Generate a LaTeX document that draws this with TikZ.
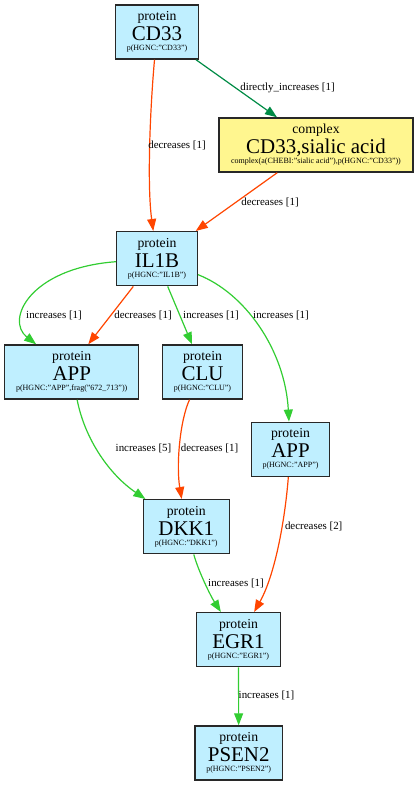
\documentclass[tikz,border=0pt]{standalone}
\usepackage{fontspec}
\setmainfont{Liberation Serif}
\usetikzlibrary{arrows.meta,calc}
\definecolor{nodeblue}{RGB}{191,239,255}
\definecolor{nodekhaki}{RGB}{255,246,143}
\definecolor{decr}{RGB}{255,69,0}
\definecolor{incr}{RGB}{50,205,50}
\definecolor{dincr}{RGB}{0,139,69}
\definecolor{bordergray}{RGB}{40,40,40}
\newcommand{\beltext}[3]{\vbox{\offinterlineskip\halign{\hfil##\hfil\cr
\fontsize{10.3}{11}\selectfont\rule[-3pt]{0pt}{13pt}#1\cr
\fontsize{15.7}{17}\selectfont\rule[-2pt]{0pt}{14pt}#2\cr
\fontsize{6}{7}\selectfont\rule[-5pt]{0pt}{10.5pt}#3\cr}}}
\tikzset{
  belbox/.style={draw=bordergray, line width=1.1pt, inner sep=0pt, minimum height=40.5pt},
  prot/.style={belbox, fill=nodeblue},
  cplx/.style={belbox, fill=nodekhaki},
  lbl/.style={font=\fontsize{8.2}{9}\selectfont, inner sep=0pt},
  decrel/.style={line width=0.9pt, draw=decr, -{Triangle[length=9pt,width=6.75pt,fill=decr]}},
  increl/.style={line width=0.9pt, draw=incr, -{Triangle[length=9pt,width=6.75pt,fill=incr]}},
  dincrel/.style={line width=0.9pt, draw=dincr, -{Triangle[length=9pt,width=6.75pt,fill=dincr]}}
}
\begin{document}
\begin{tikzpicture}[x=0.75pt,y=-0.75pt]
\useasboundingbox (0,0) rectangle (418,785);
% nodes
\node[prot, minimum width=62.25pt] (cd33) at (157,32) {\beltext{protein}{CD33}{p(HGNC:"CD33")}};
\node[cplx, minimum width=145.5pt] (cplx) at (316,145) {\beltext{complex}{CD33,sialic acid}{complex(a(CHEBI:"sialic acid"),p(HGNC:"CD33"))}};
\node[prot, minimum width=60.4pt] (il1b) at (157,258.7) {\beltext{protein}{IL1B}{p(HGNC:"IL1B")}};
\node[prot, minimum width=100.5pt] (appf) at (71.7,372) {\beltext{protein}{APP}{p(HGNC:"APP",frag("672\_713"))}};
\node[prot, minimum width=59.7pt] (clu) at (202.5,372) {\beltext{protein}{CLU}{p(HGNC:"CLU")}};
\node[prot, minimum width=58.2pt] (app) at (290.5,449.3) {\beltext{protein}{APP}{p(HGNC:"APP")}};
\node[prot, minimum width=64.5pt] (dkk1) at (186.3,526.7) {\beltext{protein}{DKK1}{p(HGNC:"DKK1")}};
\node[prot, minimum width=62.7pt] (egr1) at (238.5,639.7) {\beltext{protein}{EGR1}{p(HGNC:"EGR1")}};
\node[prot, minimum width=65.5pt] (psen2) at (238.7,753) {\beltext{protein}{PSEN2}{p(HGNC:"PSEN2")}};
% edges
\draw[decrel] (cd33) .. controls (150,110) and (147,185) .. (il1b);
\draw[dincrel] (cd33) -- (cplx);
\draw[decrel] (cplx) -- (il1b);
\draw[increl] (il1b) .. controls (30,268) and (5,320) .. (appf);
\draw[decrel] ($(il1b.south)+(-23.7,0)$) -- ($(appf.north)+(16.6,0)$);
\draw[increl] ($(il1b.south)+(10.7,0)$) -- ($(clu.north)+(-10.5,0)$);
\draw[increl] (il1b) .. controls (245,293) and (285,350) .. (app);
\draw[increl] (appf) .. controls (85,440) and (110,475) .. (dkk1);
\draw[decrel] (clu) .. controls (180,420) and (176,465) .. (dkk1);
\draw[decrel] (app) .. controls (285,520) and (275,575) .. (egr1);
\draw[increl] (dkk1) .. controls (198,570) and (210,595) .. (egr1);
\draw[increl] (egr1) -- (psen2);
% labels
\node[lbl] (l1) at (177,145) {decreases [1]};
\node[lbl] (l2) at (287.5,88) {directly\_increases [1]};
\node[lbl] (l3) at (270,202) {decreases [1]};
\node[lbl] (l4) at (54,315) {increases [1]};
\node[lbl] (l5) at (143,315) {decreases [1]};
\node[lbl] (l6) at (211,315) {increases [1]};
\node[lbl] (l7) at (281,315) {increases [1]};
\node[lbl] (l8) at (143.5,448) {increases [5]};
\node[lbl] (l9) at (209.5,448) {decreases [1]};
\node[lbl] (l10) at (313.7,526) {decreases [2]};
\node[lbl] (l11) at (236,583) {increases [1]};
\node[lbl] (l12) at (266.5,695.7) {increases [1]};
\end{tikzpicture}
\end{document}
